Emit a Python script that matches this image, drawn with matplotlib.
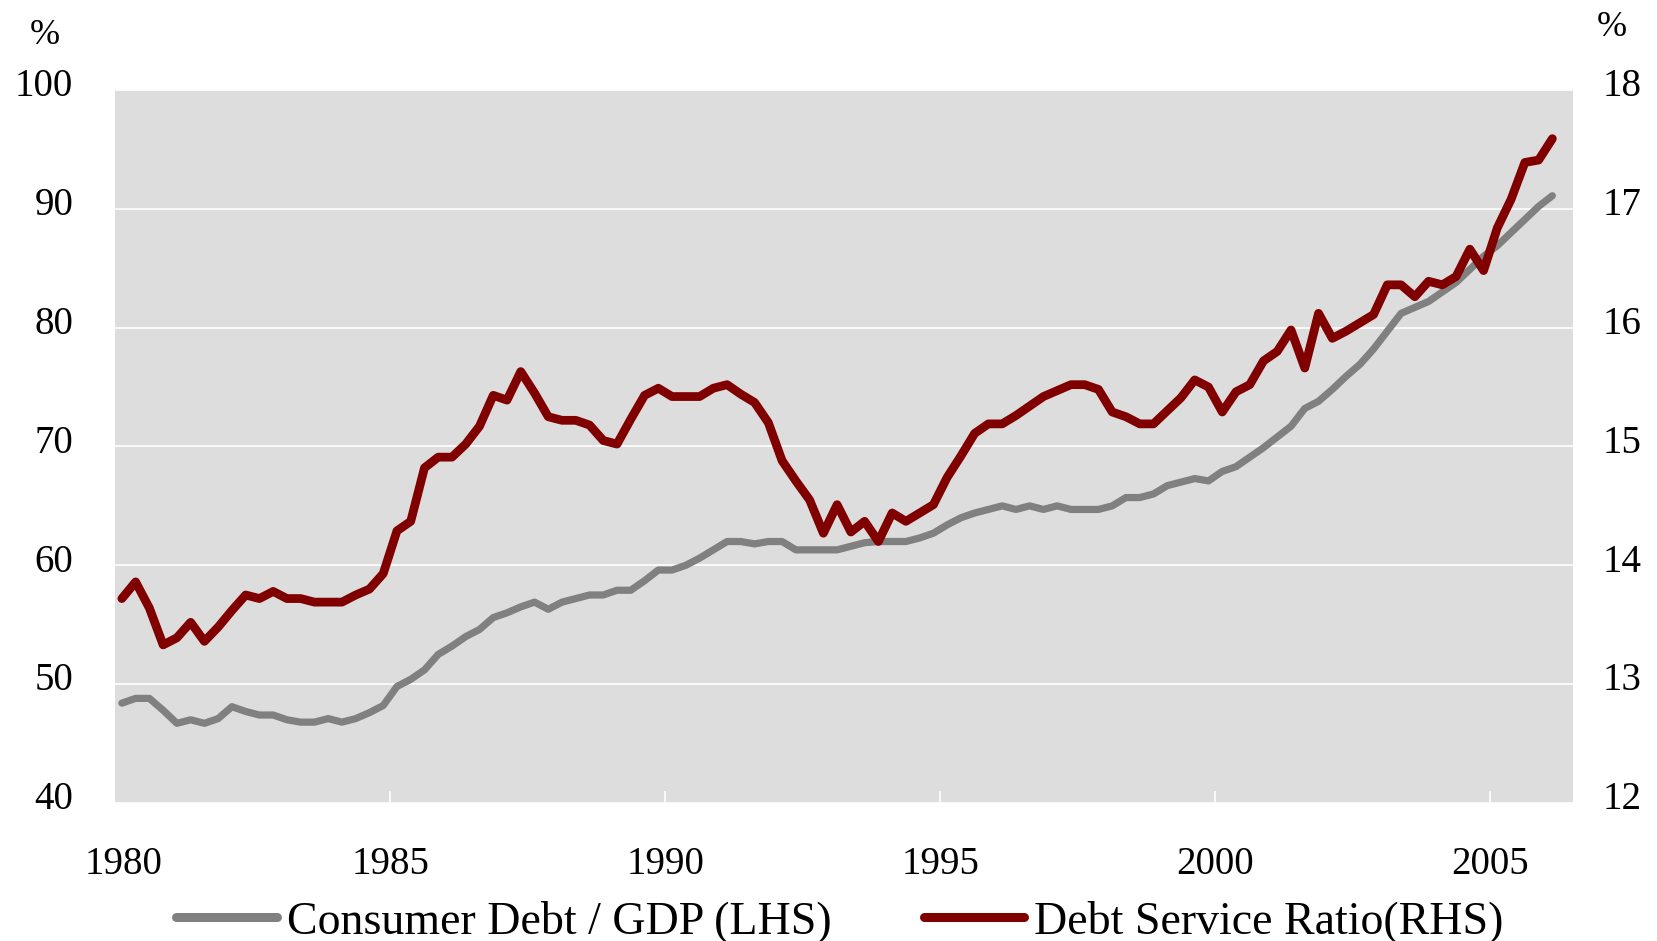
import numpy as np
from matplotlib import pyplot as plt
from matplotlib.transforms import ScaledTranslation

plt.rcParams["font.family"] = ["Liberation Serif", "DejaVu Serif"]

# Quarterly observations, 1980Q1 - 2006Q1
debt_gdp = [
    48.4, 48.8, 48.8, 47.8, 46.7, 47.0, 46.7, 47.1, 48.1, 47.7,
    47.4, 47.4, 47.0, 46.8, 46.8, 47.1, 46.8, 47.1, 47.6, 48.2,
    49.8, 50.4, 51.2, 52.5, 53.2, 54.0, 54.6, 55.6, 56.0, 56.5,
    56.9, 56.3, 56.9, 57.2, 57.5, 57.5, 57.9, 57.9, 58.7, 59.6,
    59.6, 60.0, 60.6, 61.3, 62.0, 62.0, 61.8, 62.0, 62.0, 61.3,
    61.3, 61.3, 61.3, 61.6, 61.9, 62.0, 62.0, 62.0, 62.3, 62.7,
    63.4, 64.0, 64.4, 64.7, 65.0, 64.7, 65.0, 64.7, 65.0, 64.7,
    64.7, 64.7, 65.0, 65.7, 65.7, 66.0, 66.7, 67.0, 67.3, 67.1,
    67.9, 68.3, 69.1, 69.9, 70.8, 71.7, 73.2, 73.8, 74.8, 75.9,
    76.9, 78.2, 79.7, 81.2, 81.7, 82.2, 83.0, 83.8, 84.9, 86.0,
    86.9, 88.0, 89.1, 90.2, 91.1,
]
debt_service = [
    13.72, 13.86, 13.64, 13.33, 13.39, 13.52, 13.36, 13.48, 13.62, 13.75,
    13.72, 13.78, 13.72, 13.72, 13.69, 13.69, 13.69, 13.75, 13.80, 13.93,
    14.29, 14.37, 14.82, 14.91, 14.91, 15.02, 15.17, 15.43, 15.39, 15.63,
    15.45, 15.25, 15.22, 15.22, 15.18, 15.05, 15.02, 15.23, 15.43, 15.49,
    15.42, 15.42, 15.42, 15.49, 15.52, 15.44, 15.37, 15.20, 14.88, 14.71,
    14.55, 14.27, 14.51, 14.28, 14.37, 14.20, 14.44, 14.37, 14.44, 14.51,
    14.74, 14.92, 15.11, 15.19, 15.19, 15.26, 15.34, 15.42, 15.47, 15.52,
    15.52, 15.48, 15.29, 15.25, 15.19, 15.19, 15.30, 15.41, 15.56, 15.50,
    15.29, 15.46, 15.52, 15.72, 15.80, 15.98, 15.66, 16.12, 15.91, 15.97,
    16.04, 16.11, 16.36, 16.36, 16.26, 16.39, 16.36, 16.43, 16.66, 16.48,
    16.84, 17.08, 17.39, 17.41, 17.59,
]
year_ticks = [1985, 1990, 1995, 2000, 2005]
year_labels = ["1980", "1985", "1990", "1995", "2000", "2005"]
left_ticks = [40, 50, 60, 70, 80, 90, 100]
right_ticks = [12, 13, 14, 15, 16, 17, 18]

# mid-quarter positions
t = 1980.125 + 0.25 * np.arange(len(debt_gdp))

fig = plt.figure(figsize=(16.57, 9.41), dpi=100)
ax = fig.add_axes([0.0694, 0.1467, 0.8799, 0.7577])
ax.set_facecolor("#dddddd")
ax2 = ax.twinx()

l1, = ax.plot(t, debt_gdp, color="#808080", lw=5.2,
              solid_joinstyle="round", solid_capstyle="round",
              label="Consumer Debt / GDP (LHS)")
l2, = ax2.plot(t, debt_service, color="#800000", lw=6.3,
               solid_joinstyle="round", solid_capstyle="round",
               label="Debt Service Ratio(RHS)")

ax.set_xlim(1980, 2006.5)
ax.set_ylim(40, 100)
ax2.set_ylim(12, 18)
ax.set_yticks(left_ticks)
ax2.set_yticks(right_ticks)
ax.set_xticks([1980.15] + year_ticks)
ax.set_xticklabels(year_labels)
ax.xaxis.get_major_ticks()[0].tick1line.set_visible(False)
ax.grid(axis="y", color="white", lw=1.2)
ax.set_axisbelow(True)

for a in (ax, ax2):
    for s in a.spines.values():
        s.set_visible(False)

ax.tick_params(axis="x", direction="in", length=9, width=1.2, color="white",
               labelsize=28, pad=31)
ax.tick_params(axis="y", length=0, labelsize=28, pad=30)
ax2.tick_params(axis="y", length=0, labelsize=28, pad=21)

# value labels sit a little above their gridlines
lift = ScaledTranslation(0, 5.5 / 72, fig.dpi_scale_trans)
for lab in ax.get_yticklabels() + ax2.get_yticklabels():
    lab.set_transform(lab.get_transform() + lift)

fig.text(0.027, 0.962, "%", fontsize=26, ha="center", va="center")
fig.text(0.973, 0.971, "%", fontsize=26, ha="center", va="center")

leg = fig.legend(handles=[l1, l2], loc="center", bbox_to_anchor=(0.507, 0.021),
                 ncol=2, frameon=False, fontsize=33, handlelength=2.2,
                 handletextpad=0.22, columnspacing=2.0, borderpad=0)
for h in leg.get_lines():
    h.set_linewidth(6.5)

fig.savefig("out.png", dpi=100)
